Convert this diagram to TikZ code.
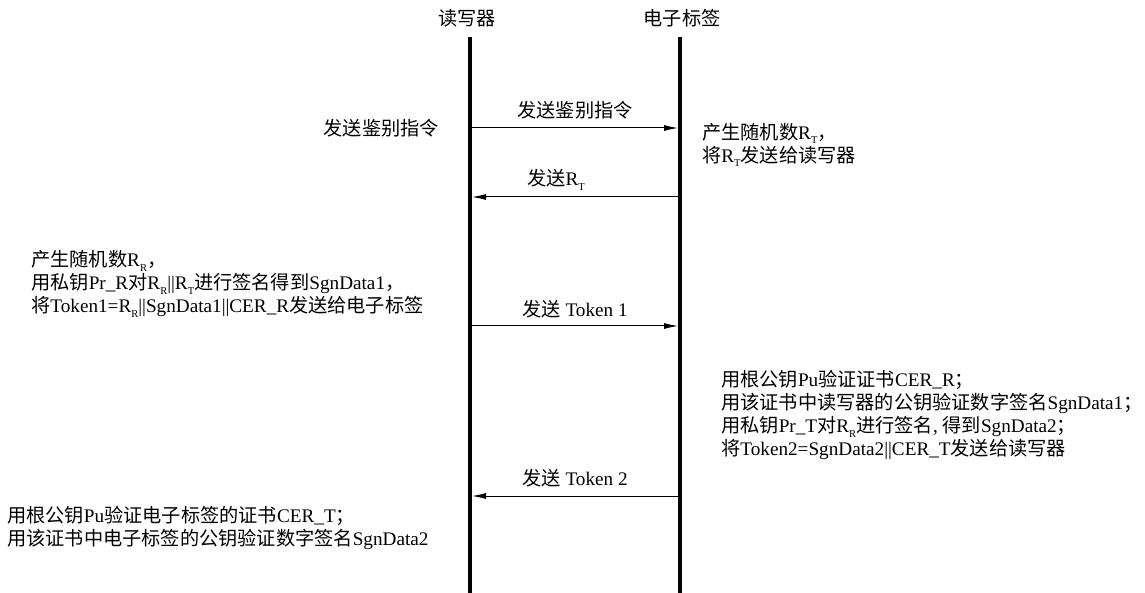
\documentclass[tikz,border=0pt]{standalone}
\usepackage{fontspec}
\setmainfont{Liberation Serif}
\newfontfamily\cjk{Noto Sans CJK SC}
\usetikzlibrary{arrows.meta}
\newcommand\zh[1]{{\cjk #1}}
\newcommand\sbs[1]{\raisebox{-0.55ex}{\fontsize{10.5}{10.5}\selectfont #1}}
\begin{document}
\begin{tikzpicture}[x=1pt,y=-1pt,
  every node/.style={font=\fontsize{19.2}{23}\selectfont, inner sep=0pt},
  life/.style={line width=4pt},
  msg/.style={line width=1pt, -{Latex[length=14pt,width=6pt]}, shorten <=2pt, shorten >=2pt},
  txt/.style={align=left, anchor=west}]
\useasboundingbox (0,0) rectangle (1145,593);
% headers
\node (hr) at (467,18) {\zh{读写器}};
\node (ht) at (682,18) {\zh{电子标签}};
% lifelines
\coordinate (Rt) at (470,37);
\coordinate (Rb) at (470,593);
\coordinate (Tt) at (680,37);
\coordinate (Tb) at (680,593);
\draw[life] (Rt) -- (Rb);
\draw[life] (Tt) -- (Tb);
% message 1
\coordinate (R1) at (470,128);
\coordinate (T1) at (680,128);
\draw[msg] (R1) -- (T1);
\node (m1) at (575,110) {\zh{发送鉴别指令}};
\node (l1) [anchor=east] at (439,128) {\zh{发送鉴别指令}};
\node (r1) [txt] at (702,145) {\zh{产生随机数}R\sbs{T}\zh{，}\\\zh{将}R\sbs{T}\zh{发送给读写器}};
% message 2
\coordinate (R2) at (470,197);
\coordinate (T2) at (680,197);
\draw[msg] (T2) -- (R2);
\node (m2) at (556,180) {\zh{发送}R\sbs{T}};
\node (l2) [txt] at (31,284) {\zh{产生随机数}R\sbs{R}\zh{，}\\\zh{用私钥}Pr\_R\zh{对}R\sbs{R}||R\sbs{T}\zh{进行签名得到}SgnData1\zh{，}\\\zh{将}Token1=R\sbs{R}||SgnData1||CER\_R\zh{发送给电子标签}};
% message 3
\coordinate (R3) at (470,326);
\coordinate (T3) at (680,326);
\draw[msg] (R3) -- (T3);
\node (m3) at (575,309) {\zh{发送} Token 1};
\node (r3) [txt] at (721,415) {\zh{用根公钥}Pu\zh{验证证书}CER\_R\zh{；}\\\zh{用该证书中读写器的公钥验证数字签名}SgnData1\zh{；}\\\zh{用私钥}Pr\_T\zh{对}R\sbs{R}\zh{进行签名}, \zh{得到}SgnData2\zh{；}\\\zh{将}Token2=SgnData2||CER\_T\zh{发送给读写器}};
% message 4
\coordinate (R4) at (470,496);
\coordinate (T4) at (680,496);
\draw[msg] (T4) -- (R4);
\node (m4) at (575,478) {\zh{发送} Token 2};
\node (l4) [txt] at (7,528) {\zh{用根公钥}Pu\zh{验证电子标签的证书}CER\_T\zh{；}\\\zh{用该证书中电子标签的公钥验证数字签名}SgnData2};
\end{tikzpicture}
\end{document}
